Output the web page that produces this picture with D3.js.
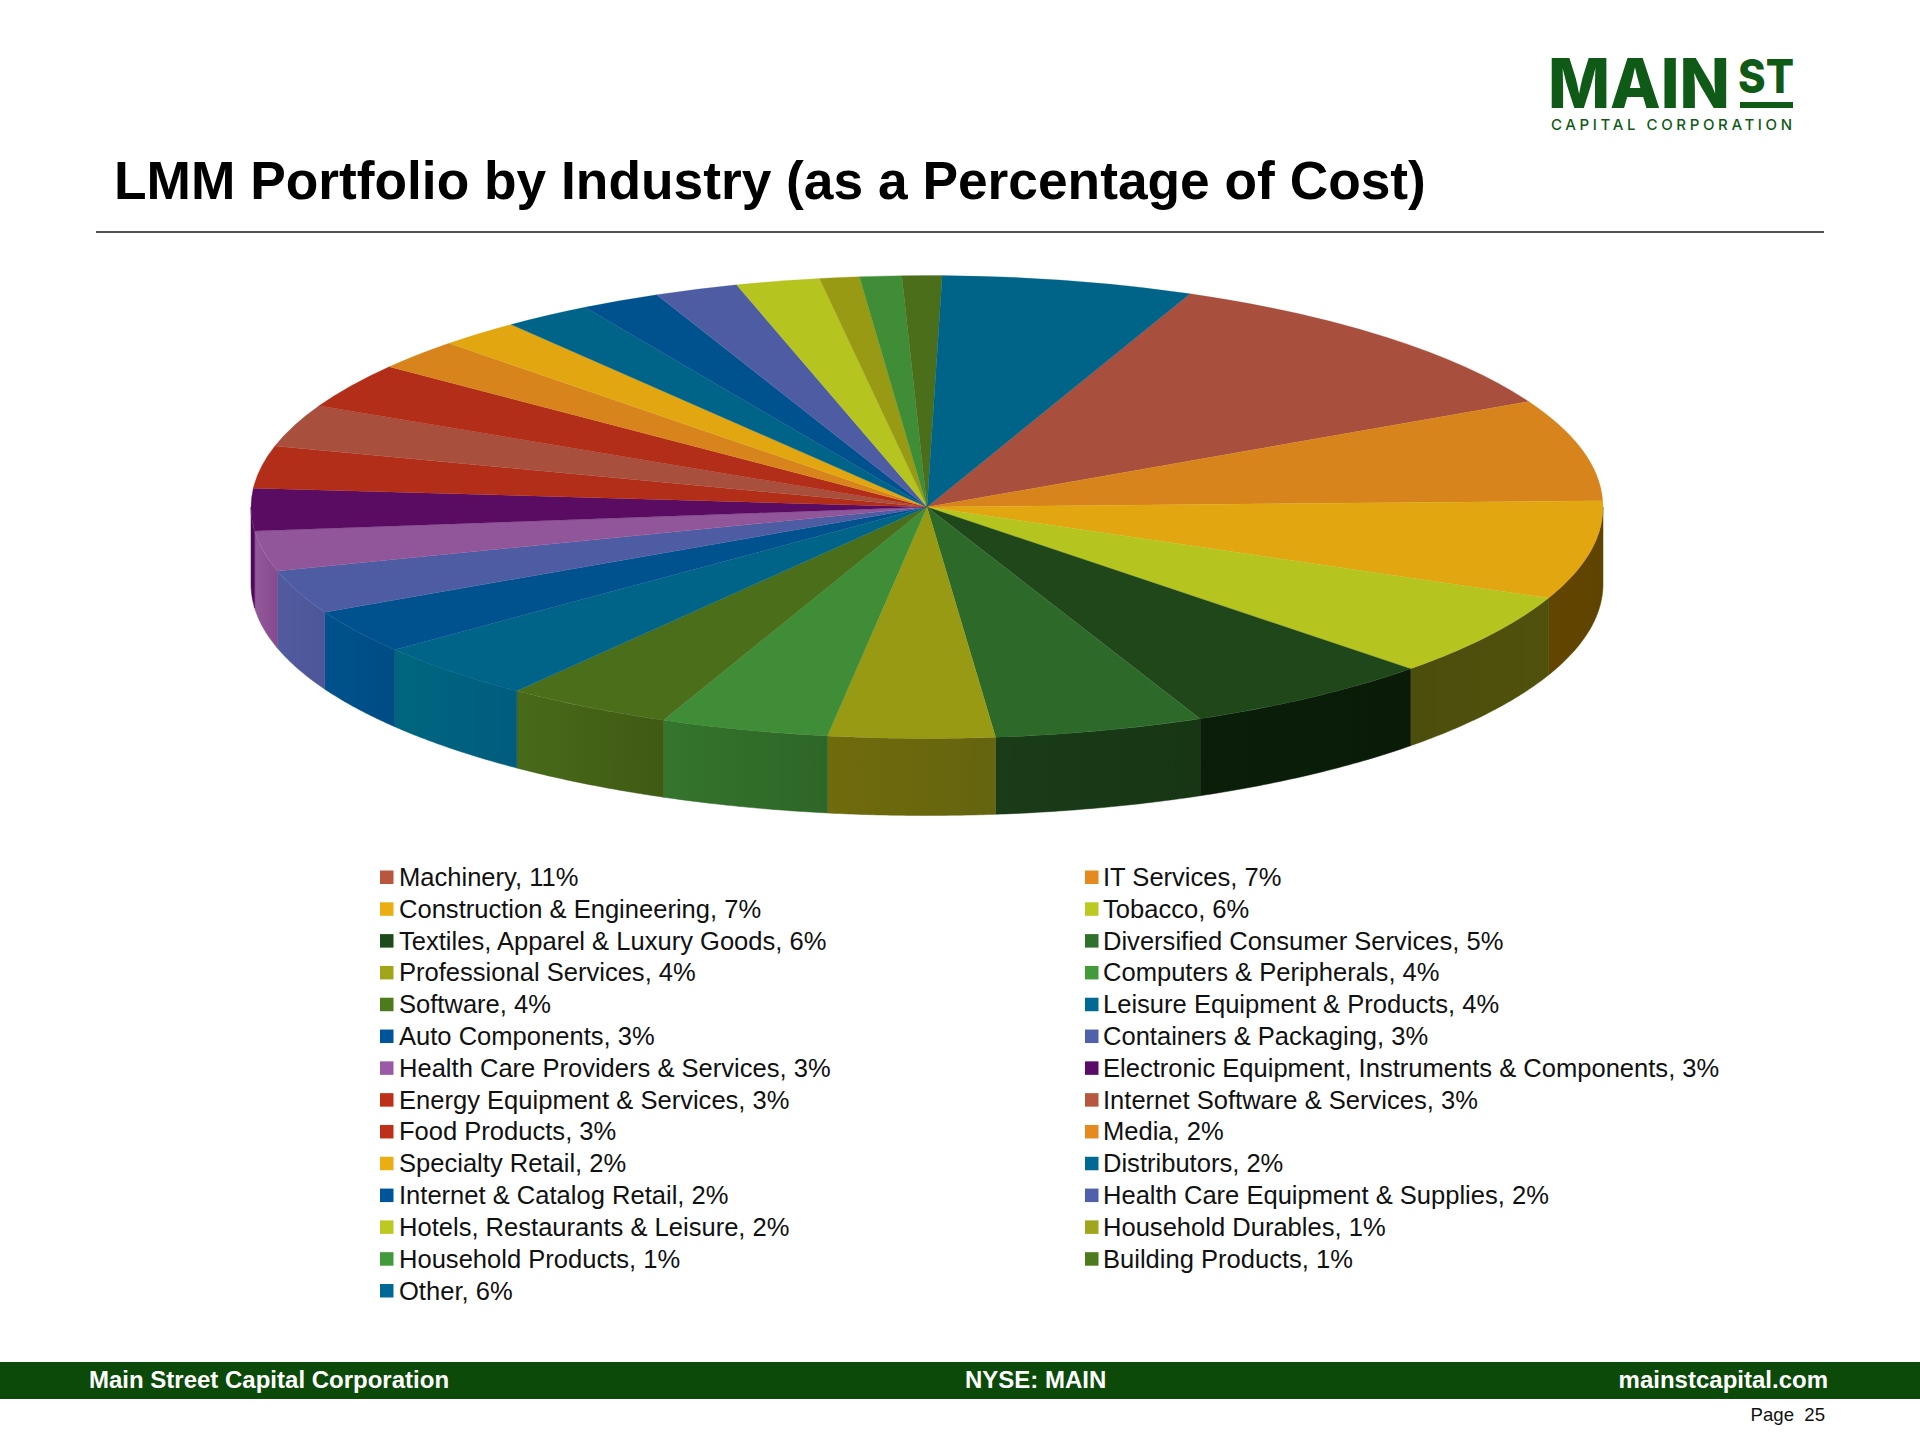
<!DOCTYPE html>
<html><head><meta charset="utf-8">
<script src="https://cdnjs.cloudflare.com/ajax/libs/d3/7.8.5/d3.min.js"></script>
<style>html,body{margin:0;padding:0;background:#fff}svg{display:block}text{font-family:"Liberation Sans",Arial,sans-serif}</style>
</head><body><div id="chart"></div>
<script>
const categories=["Machinery","IT Services","Construction & Engineering","Tobacco","Textiles, Apparel & Luxury Goods","Diversified Consumer Services","Professional Services","Computers & Peripherals","Software","Leisure Equipment & Products","Auto Components","Containers & Packaging","Health Care Providers & Services","Electronic Equipment, Instruments & Components","Energy Equipment & Services","Internet Software & Services","Food Products","Media","Specialty Retail","Distributors","Internet & Catalog Retail","Health Care Equipment & Supplies","Hotels, Restaurants & Leisure","Household Durables","Household Products","Building Products","Other"];
const shares=[11.1,7.1,6.86,5.88,6.06,5.0,3.97,4.02,4.0,4.05,3.06,3.05,2.8,2.95,2.95,2.95,3.16,2.14,1.95,2.1,1.9,2.0,2.0,0.95,1.0,0.95,6.0];
const labelPct=[11,7,7,6,6,5,4,4,4,4,3,3,3,3,3,3,3,2,2,2,2,2,2,1,1,1,6];
const topColors=["#a84f3d","#d8841c","#e2a610","#b5c41f","#20471a","#2d6a2a","#989a14","#3f8d36","#4a6e19","#006488","#00528e","#4e5da3","#915699","#5a0c62","#b22e18","#a84f3d","#b22e18","#d8841c","#e2a610","#006488","#00528e","#4e5da3","#b5c41f","#989a14","#3f8d36","#4a6e19","#006488"];
const legendColors=["#b8573f","#e58a1f","#eaad12","#bcc922","#1f4a1b","#2f702c","#a0a51a","#439a3a","#4c7a1c","#006a94","#00559a","#5060aa","#9a5aa6","#5c0a6a","#bd3019","#b8573f","#bd3019","#e58a1f","#eaad12","#006a94","#00559a","#5060aa","#bcc922","#a0a51a","#439a3a","#4c7a1c","#006a94"];
// side wall shading, [left edge colour, right edge colour]
const wallColors={"Construction & Engineering":["#614500","#5f4300"],"Tobacco":["#4c4e0c","#50510c"],"Textiles, Apparel & Luxury Goods":["#0a1e09","#0a1c08"],"Diversified Consumer Services":["#1a3c18","#173614"],"Professional Services":["#706b0c","#65640f"],"Computers & Peripherals":["#35752d","#2e6627"],"Software":["#486a19","#405a14"],"Leisure Equipment & Products":["#00667f","#005c7e"],"Auto Components":["#00528c","#004c84"],"Containers & Packaging":["#525ba0","#4d5697"],"Health Care Providers & Services":["#93599a","#864a8e"],"Electronic Equipment, Instruments & Components":["#4a0a55","#520c5c"]};

const W=1920,H=1440;
const svg=d3.select("#chart").append("svg").attr("width",W).attr("height",H).attr("viewBox",[0,0,W,H]);
const cx=927,cy=507,rx=676,ry=231.5,depth=77;
const toRad=d=>d*Math.PI/180;
const pie=d3.pie().sort(null).value(d=>d.v).startAngle(toRad(22.9)).endAngle(toRad(382.9));
const slices=pie(categories.map((n,i)=>({n,v:shares[i],c:topColors[i]})));

const defs=svg.append("defs");
const px=t=>cx+rx*Math.sin(t), py=t=>cy-ry*Math.cos(t);
const line=d3.line().x(d=>d[0]).y(d=>d[1]);
const wallG=svg.append("g");
slices.forEach((s,i)=>{
  const a0=Math.max(s.startAngle,Math.PI/2),a1=Math.min(s.endAngle,3*Math.PI/2);
  if(a1<=a0)return;
  const ts=d3.range(0,41).map(k=>d3.interpolateNumber(a0,a1)(k/40));
  const pts=ts.map(t=>[px(t),py(t)]).concat(ts.slice().reverse().map(t=>[px(t),py(t)+depth]));
  const wc=wallColors[s.data.n]||[s.data.c,s.data.c];
  const id="wall"+i;
  const g=defs.append("linearGradient").attr("id",id).attr("x1",0).attr("x2",1).attr("y1",0).attr("y2",0);
  g.append("stop").attr("offset",0).attr("stop-color",wc[0]);
  g.append("stop").attr("offset",1).attr("stop-color",wc[1]);
  wallG.append("path").attr("d",line(pts)+"Z").attr("fill",`url(#${id})`).attr("stroke",wc[1]).attr("stroke-width",0.5);
});
const arc=d3.arc().innerRadius(0).outerRadius(rx);
svg.append("g").attr("transform",`translate(${cx},${cy}) scale(1,${ry/rx})`)
  .selectAll("path").data(slices).join("path").attr("d",arc).attr("fill",d=>d.data.c)
  .attr("stroke",d=>d.data.c).attr("stroke-width",0.4);

// header
svg.append("text").attr("x",114).attr("y",198.5).attr("font-size",53.3).attr("font-weight",700).attr("fill","#000").text("LMM Portfolio by Industry (as a Percentage of Cost)");
svg.append("rect").attr("x",96).attr("y",231).attr("width",1728).attr("height",2).attr("fill","#505050");

// logo
const logoColor="#0f5a17";
const logo=svg.append("g").attr("fill",logoColor);
logo.append("text").attr("x",1548).attr("y",108).attr("font-size",69).attr("font-weight",800).attr("textLength",182).attr("lengthAdjust","spacingAndGlyphs").style("font-family","Inter").text("MAIN");
logo.append("text").attr("x",1738).attr("y",93).attr("font-size",47).attr("font-weight",800).attr("textLength",56).attr("lengthAdjust","spacingAndGlyphs").style("font-family","Inter").text("ST");
logo.append("rect").attr("x",1740).attr("y",102).attr("width",53).attr("height",6);
logo.append("text").attr("x",1551).attr("y",130).attr("font-size",15).attr("font-weight",500).attr("textLength",241).style("font-family","Inter").text("CAPITAL CORPORATION");

// legend
const rows=d3.scalePoint().domain(d3.range(14)).range([877,1290.5]);
const colX=[380,1085];
const colTextDx=[19,18];
const lg=svg.append("g").selectAll("g").data(categories).join("g")
  .attr("transform",(d,i)=>`translate(${colX[i%2]},${rows(Math.floor(i/2))})`);
lg.append("rect").attr("x",0).attr("y",-6.5).attr("width",13.5).attr("height",13.5).attr("fill",(d,i)=>legendColors[i]);
lg.append("text").attr("x",(d,i)=>colTextDx[i%2]).attr("y",9).attr("font-size",25.55).attr("fill","#111").text((d,i)=>`${d}, ${labelPct[i]}%`);

// footer
svg.append("rect").attr("x",0).attr("y",1362).attr("width",W).attr("height",37).attr("fill","#0b4a08");
const foot=svg.append("g").attr("fill","#fff").attr("font-size",24).attr("font-weight",700);
foot.append("text").attr("x",89).attr("y",1387.5).text("Main Street Capital Corporation");
foot.append("text").attr("x",965).attr("y",1387.5).text("NYSE: MAIN");
foot.append("text").attr("x",1828).attr("y",1387.5).attr("text-anchor","end").text("mainstcapital.com");
svg.append("text").attr("x",1825).attr("y",1421).attr("text-anchor","end").attr("font-size",18.6).attr("fill","#111").style("white-space","pre").text("Page  25");
</script></body></html>
